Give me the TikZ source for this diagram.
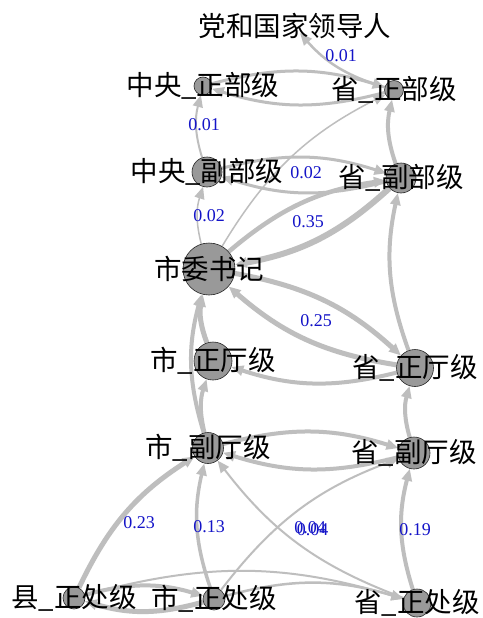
\documentclass[tikz,border=0pt]{standalone}
\usepackage{fontspec}
\newfontfamily\cjk{Noto Sans CJK SC}
\newfontfamily\numfont{Liberation Serif}
\usetikzlibrary{arrows.meta}
\pgfdeclarelayer{bg}
\pgfsetlayers{bg,main}
\definecolor{eg}{RGB}{190,190,190}
\definecolor{vg}{RGB}{153,153,153}
\definecolor{lb}{RGB}{20,20,200}
\begin{document}
\begin{tikzpicture}[x=1pt,y=1pt,
 vtx/.style={circle, fill=vg, draw=black!85, line width=0.6pt, inner sep=0pt},
 lab/.style={font=\cjk\fontsize{27.5}{30}\selectfont, text=black, inner sep=0pt},
 wl/.style={font=\numfont\fontsize{18}{20}\selectfont, text=lb, inner sep=0pt},
 e/.style={draw=eg, -{Triangle[length=12pt,width=10pt]}, bend left=16},
]
\useasboundingbox (0,0) rectangle (482,-618);
% vertices
\node[circle, minimum size=24pt, inner sep=0pt] (dang) at (292,-24) {};
\node[vtx, minimum size=18pt] (zz) at (203,-86) {};
\node[vtx, minimum size=19pt] (sz) at (394,-90) {};
\node[vtx, minimum size=30pt] (zf) at (207,-172) {};
\node[vtx, minimum size=30pt] (sf) at (401,-178) {};
\node[vtx, minimum size=52pt] (swsj) at (209,-269) {};
\node[vtx, minimum size=38pt] (szt) at (213,-361) {};
\node[vtx, minimum size=37pt] (pzt) at (415,-368) {};
\node[vtx, minimum size=31pt] (sft) at (208,-448) {};
\node[vtx, minimum size=32pt] (pft) at (414,-453) {};
\node[vtx, minimum size=22pt] (xzc) at (74,-598) {};
\node[vtx, minimum size=22pt] (szc) at (214,-599) {};
\node[vtx, minimum size=28pt] (pzc) at (417,-603) {};
% edges
\begin{pgfonlayer}{bg}
\fill[white] (0,0) rectangle (482,-618);
\draw[e, line width=2.5pt] (sz) to (dang);
\draw[e, line width=3pt] (zz) to (sz);
\draw[e, line width=3pt] (sz) to (zz);
\draw[e, line width=2pt] (zf) to (zz);
\draw[e, line width=4pt] (sf) to (sz);
\draw[e, line width=1.5pt] (swsj) to (sz);
\draw[e, line width=3pt] (zf) to (sf);
\draw[e, line width=3pt] (sf) to (zf);
\draw[e, line width=1.5pt] (swsj) to (zf);
\draw[e, line width=4.5pt] (swsj) to (sf);
\draw[e, line width=6pt] (sf) to (swsj);
\draw[e, line width=5pt] (swsj) to (pzt);
\draw[e, line width=5pt] (pzt) to (swsj);
\draw[e, line width=4pt] (pzt) to (sf);
\draw[e, line width=4pt] (pzt) to (szt);
\draw[e, line width=5pt] (szt) to (swsj);
\draw[e, line width=4pt] (sft) to (swsj);
\draw[e, line width=4pt] (sft) to (szt);
\draw[e, line width=4pt] (pft) to (pzt);
\draw[e, line width=4pt] (sft) to (pft);
\draw[e, line width=4pt] (pft) to (sft);
\draw[e, line width=5pt] (xzc) to (sft);
\draw[e, line width=3.5pt] (szc) to (sft);
\draw[e, line width=2pt] (pzc) to (sft);
\draw[e, line width=2pt] (szc) to (pft);
\draw[e, line width=4pt] (pzc) to (pft);
\draw[e, line width=4pt] (xzc) to (szc);
\draw[e, line width=5pt] (szc) to (xzc);
\draw[e, line width=2pt] (xzc) to (pzc);
\draw[e, line width=2.5pt] (szc) to (pzc);
\end{pgfonlayer}
% vertex labels
\node[lab] (tdang) at (295,-26) {党和国家领导人};
\node[lab] (tzz) at (zz) {中央\_正部级};
\node[lab] (tsz) at (sz) {省\_正部级};
\node[lab] (tzf) at (zf) {中央\_副部级};
\node[lab] (tsf) at (sf) {省\_副部级};
\node[lab] (tswsj) at (swsj) {市委书记};
\node[lab] (tszt) at (szt) {市\_正厅级};
\node[lab] (tpzt) at (pzt) {省\_正厅级};
\node[lab] (tsft) at (sft) {市\_副厅级};
\node[lab] (tpft) at (pft) {省\_副厅级};
\node[lab] (txzc) at (xzc) {县\_正处级};
\node[lab] (tszc) at (szc) {市\_正处级};
\node[lab] (tpzc) at (pzc) {省\_正处级};
% edge labels
\node[wl] (w1) at (341,-56) {0.01};
\node[wl] (w2) at (204,-125) {0.01};
\node[wl] (w3) at (306,-173) {0.02};
\node[wl] (w4) at (209,-216) {0.02};
\node[wl] (w5) at (308,-222) {0.35};
\node[wl] (w6) at (316,-321) {0.25};
\node[wl] (w7) at (139,-523) {0.23};
\node[wl] (w8) at (209,-527) {0.13};
\node[wl] (w9) at (310,-528) {0.04};
\node[wl] (w10) at (312.5,-530) {0.04};
\node[wl] (w11) at (415,-530) {0.19};
\end{tikzpicture}
\end{document}
